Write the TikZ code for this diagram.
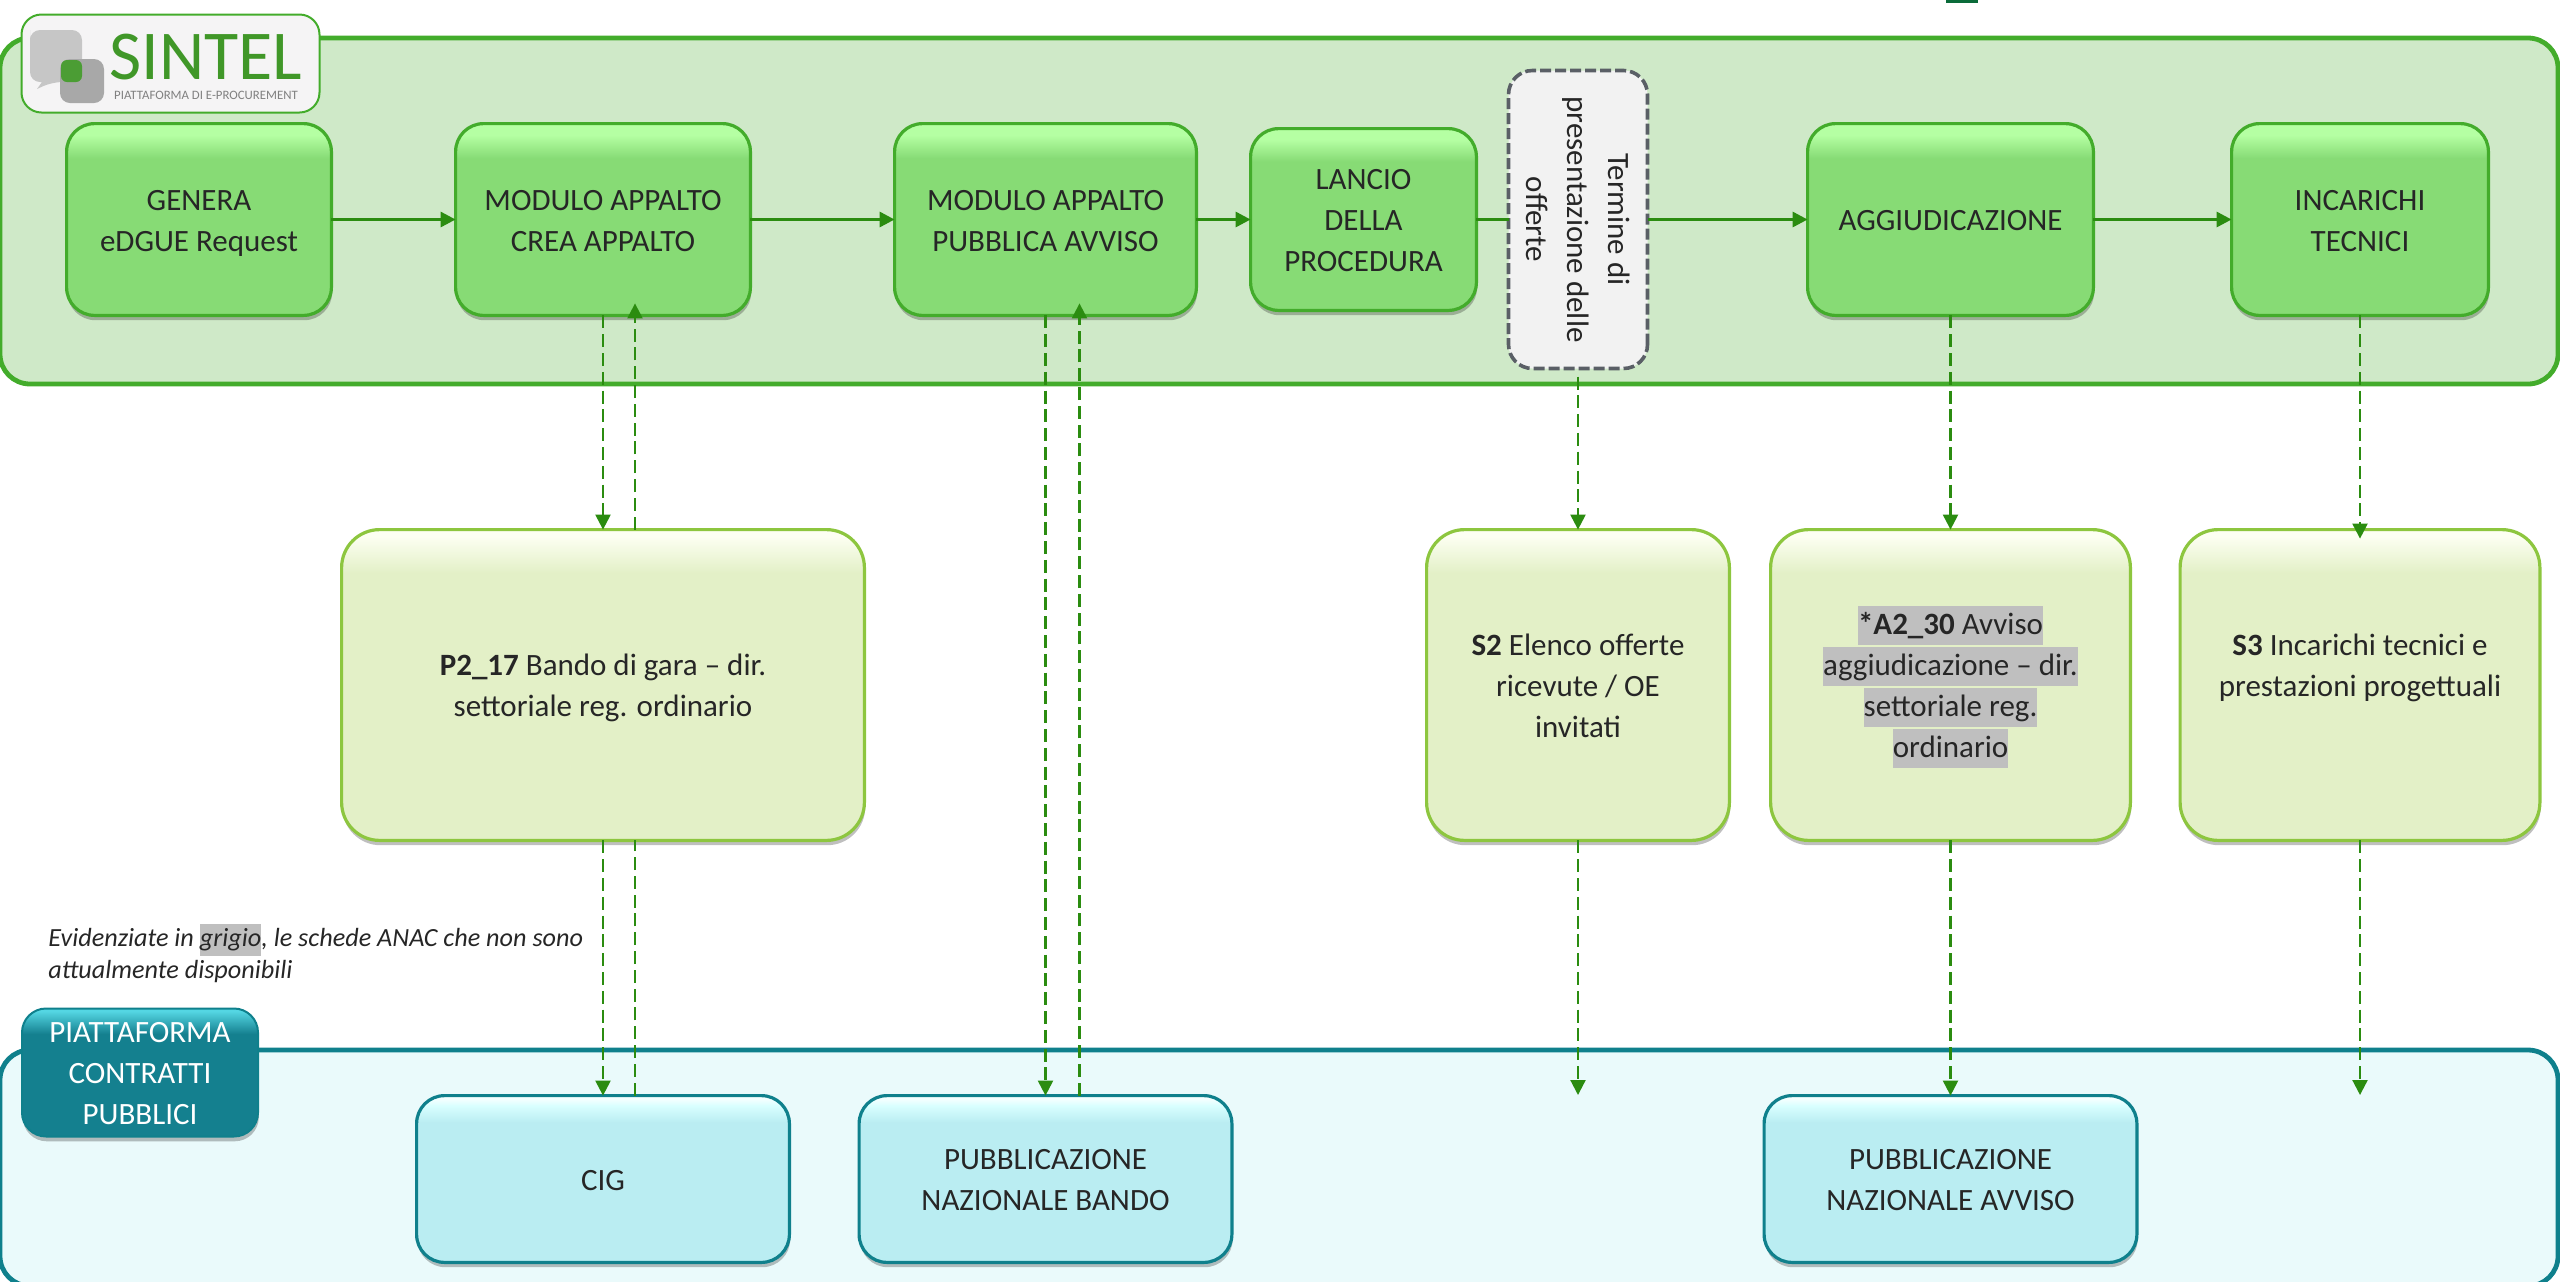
\documentclass[tikz,border=0pt]{standalone}
\usepackage{fontspec}
\setmainfont{Carlito}
\usepackage{xcolor}
\usetikzlibrary{arrows.meta,shadows}

\definecolor{bandaverde}{HTML}{CFE9C8}
\definecolor{bordoverde}{HTML}{43AC2B}
\definecolor{bordolime}{HTML}{8DC63F}
\definecolor{frecciaverde}{HTML}{2B8C10}
\definecolor{bandaazzurra}{HTML}{EAFAFB}
\definecolor{bordoazzurro}{HTML}{0F808C}
\definecolor{bordotermine}{HTML}{5A5F66}
\definecolor{hlgrigio}{HTML}{BFBFBF}
\definecolor{testoscuro}{HTML}{262626}
\definecolor{logogrigio}{HTML}{C6C6C6}
\definecolor{logosfondo}{HTML}{F5F4F5}
\definecolor{segnoalto}{HTML}{0B6B3A}

\pgfdeclareverticalshading{lucidoverde}{100bp}{
  rgb(0bp)=(0.53,0.86,0.46); rgb(66bp)=(0.53,0.86,0.46); rgb(72bp)=(0.71,1,0.64); rgb(100bp)=(0.71,1,0.64)}
\pgfdeclareverticalshading{lucidolime}{100bp}{
  rgb(0bp)=(0.89,0.94,0.78); rgb(68bp)=(0.89,0.94,0.78); rgb(74bp)=(0.99,1,0.95); rgb(100bp)=(0.99,1,0.95)}
\pgfdeclareverticalshading{lucidociano}{100bp}{
  rgb(0bp)=(0.73,0.93,0.95); rgb(67bp)=(0.73,0.93,0.95); rgb(72bp)=(0.85,1,1); rgb(74bp)=(0.96,1,1); rgb(100bp)=(0.96,1,1)}
\pgfdeclareverticalshading{lucidoteal}{100bp}{
  rgb(0bp)=(0.08,0.50,0.56); rgb(65bp)=(0.08,0.50,0.56); rgb(74bp)=(0.33,0.84,0.89); rgb(100bp)=(0.33,0.84,0.89)}

\newcommand{\grigio}[2][19.5pt]{{\fboxsep=0pt\colorbox{hlgrigio}{\rule[-5pt]{0pt}{#1}#2}}}
\newcommand{\voce}[1]{\rule{0pt}{16pt}#1\rule[-5pt]{0pt}{5pt}}

\begin{document}
\begin{tikzpicture}[x=0.5pt, y=-0.5pt,
    testo/.style = {font=\fontsize{15.5}{20.5}\selectfont, align=center, text=testoscuro, inner sep=1pt, outer sep=0pt},
    ombra/.style = {drop shadow={shadow xshift=0.4pt, shadow yshift=-2.4pt, fill=black, opacity=0.25}},
    banda/.style = {shape=rectangle, rounded corners=15pt, line width=2.4pt, outer sep=0pt},
    stepbox/.style = {testo, ombra, shape=rectangle, rounded corners=14pt, draw=bordoverde, line width=1.6pt, shading=lucidoverde},
    schedabox/.style = {testo, ombra, shape=rectangle, rounded corners=19pt, draw=bordolime, line width=1.6pt, shading=lucidolime},
    cianobox/.style = {testo, ombra, shape=rectangle, rounded corners=14pt, draw=bordoazzurro, line width=1.6pt, shading=lucidociano},
    flusso/.style = {draw=frecciaverde, line width=1.5pt, -{Triangle[length=7.5pt,width=7.5pt]}},
    rimando/.style = {draw=frecciaverde, line width=1.1pt, dash pattern=on 6.5pt off 2.9pt, -{Triangle[length=7.5pt,width=7.5pt]}}]
  \clip (0,0) rectangle (2560,1281);

  \fill[segnoalto] (1946,0) rectangle (1978,2.5);

  % bands
  \node[banda, draw=bordoverde, fill=bandaverde, minimum width=1279pt, minimum height=173pt] (sintelband) at (1279,211) {};
  \node[banda, draw=bordoazzurro, fill=bandaazzurra, minimum width=1279pt, minimum height=118pt] (pcpband) at (1279,1168) {};

  % logo
  \node[shape=rectangle, rounded corners=10pt, draw=bordoverde, line width=1pt, fill=logosfondo, minimum width=149pt, minimum height=49pt] (logo) at (170.5,63.5) {};
  \fill[logogrigio] (30,40) [rounded corners=5pt] -- (30,30) -- (82,30) -- (82,82) -- (52,82) [sharp corners] -- (37,89) -- (42,82) [rounded corners=5pt] -- (30,82) -- cycle;
  \fill[logogrigio!85!black, rounded corners=5pt] (60,59) rectangle (104,103);
  \fill[frecciaverde!85!white, rounded corners=3pt] (61,60) rectangle (82,82);
  \node[font=\fontsize{35}{35}\selectfont, text=frecciaverde!90!white, inner sep=0pt] (sintel) at (206,57) {SINTEL};
  \node[font=\fontsize{6.4}{7}\selectfont, text=gray, inner sep=0pt] (eproc) at (206,95) {PIATTAFORMA DI E-PROCUREMENT};

  % top row
  \node[stepbox, minimum width=132.4pt, minimum height=95.9pt] (genera) at (199,219.5) {\voce{GENERA\\eDGUE Request}};
  \node[stepbox, minimum width=147.4pt, minimum height=95.9pt] (crea) at (603,219.5) {\voce{MODULO APPALTO\\CREA APPALTO}};
  \node[stepbox, minimum width=150.9pt, minimum height=95.9pt] (pubblica) at (1045.5,219.5) {\voce{MODULO APPALTO\\PUBBLICA AVVISO}};
  \node[stepbox, minimum width=112.9pt, minimum height=90.9pt] (lancio) at (1363.5,219.5) {\voce{LANCIO\\DELLA\\PROCEDURA}};
  \node[testo, shape=rectangle, rounded corners=12pt, draw=bordotermine, line width=1.8pt, dash pattern=on 5.5pt off 2pt, fill=black!5,
    rotate=-90, minimum width=149pt, minimum height=69.5pt] (termine) at (1578,219.5) {\voce{Termine di\\presentazione delle\\offerte}};
  \node[stepbox, minimum width=142.9pt, minimum height=95.9pt] (aggiudica) at (1950.5,219.5) {\voce{AGGIUDICAZIONE}};
  \node[stepbox, minimum width=128.4pt, minimum height=95.9pt] (incarichi) at (2360,219.5) {\voce{INCARICHI\\TECNICI}};

  % schede
  \node[schedabox, minimum width=261.4pt, minimum height=155.4pt] (p2) at (603,685) {\voce{\textbf{P2\_17} Bando di gara -- dir.\\settoriale reg. ordinario}};
  \node[schedabox, minimum width=151.4pt, minimum height=155.4pt] (s2) at (1578,685) {\voce{\textbf{S2} Elenco offerte\\ricevute / OE\\invitati}};
  \node[schedabox, minimum width=179.9pt, minimum height=155.4pt] (a2) at (1950.5,685) {\voce{\grigio{\textbf{*A2\_30} Avviso}\\\grigio{aggiudicazione -- dir.}\\\grigio{settoriale reg.}\\\grigio{ordinario}}};
  \node[schedabox, minimum width=179.9pt, minimum height=155.4pt] (s3) at (2360,685) {\voce{\textbf{S3} Incarichi tecnici e\\prestazioni progettuali\\\mbox{}}};

  \node[font=\fontsize{13.1}{16}\selectfont\itshape, text=testoscuro, align=left, anchor=north west, inner sep=0pt] (nota) at (48,924)
    {Evidenziate in \grigio[16pt]{grigio}, le schede ANAC che non sono\\attualmente disponibili};

  % bottom row
  \node[testo, ombra, text=white, shape=rectangle, rounded corners=12pt, draw=bordoazzurro, line width=1pt, shading=lucidoteal, minimum width=118pt, minimum height=64pt] (pcp) at (140,1072.5) {\voce{PIATTAFORMA\\CONTRATTI\\PUBBLICI}};
  \node[cianobox, minimum width=186.4pt, minimum height=83.4pt] (cig) at (603,1179) {\voce{CIG}};
  \node[cianobox, minimum width=186.4pt, minimum height=83.4pt] (bando) at (1045.5,1179) {\voce{PUBBLICAZIONE\\NAZIONALE BANDO}};
  \node[cianobox, minimum width=186.4pt, minimum height=83.4pt] (avviso) at (1950.5,1179) {\voce{PUBBLICAZIONE\\NAZIONALE AVVISO}};
  \coordinate (fines2) at (1578,1095);
  \coordinate (fines3) at (2360,1095);

  % main flow
  \draw[flusso] (genera.east) -- (crea.west);
  \draw[flusso] (crea.east) -- (pubblica.west);
  \draw[flusso] (pubblica.east) -- (lancio.west);
  \draw[flusso, -] (lancio.east) -- (termine.south);
  \draw[flusso] (termine.north) -- (aggiudica.west);
  \draw[flusso] (aggiudica.east) -- (incarichi.west);

  % down and up
  \draw[rimando] (crea.south) -- (p2.north);
  \draw[rimando] ([xshift=16pt]p2.north) -- ([xshift=16pt,yshift=6pt]crea.south);
  \draw[rimando] (p2.south) -- (cig.north);
  \draw[rimando, -] ([xshift=16pt]cig.north) -- ([xshift=16pt]p2.south);
  \draw[rimando] (pubblica.south) -- (bando.north);
  \draw[rimando] ([xshift=17pt]bando.north) -- ([xshift=17pt,yshift=6pt]pubblica.south);
  \draw[rimando] ([yshift=-4pt]termine.east) -- (s2.north);
  \draw[rimando] (s2.south) -- (fines2);
  \draw[rimando] (aggiudica.south) -- (a2.north);
  \draw[rimando] (a2.south) -- (avviso.north);
  \draw[rimando] (incarichi.south) -- ([yshift=-4.5pt]s3.north);
  \draw[rimando] (s3.south) -- (fines3);
\end{tikzpicture}
\end{document}
